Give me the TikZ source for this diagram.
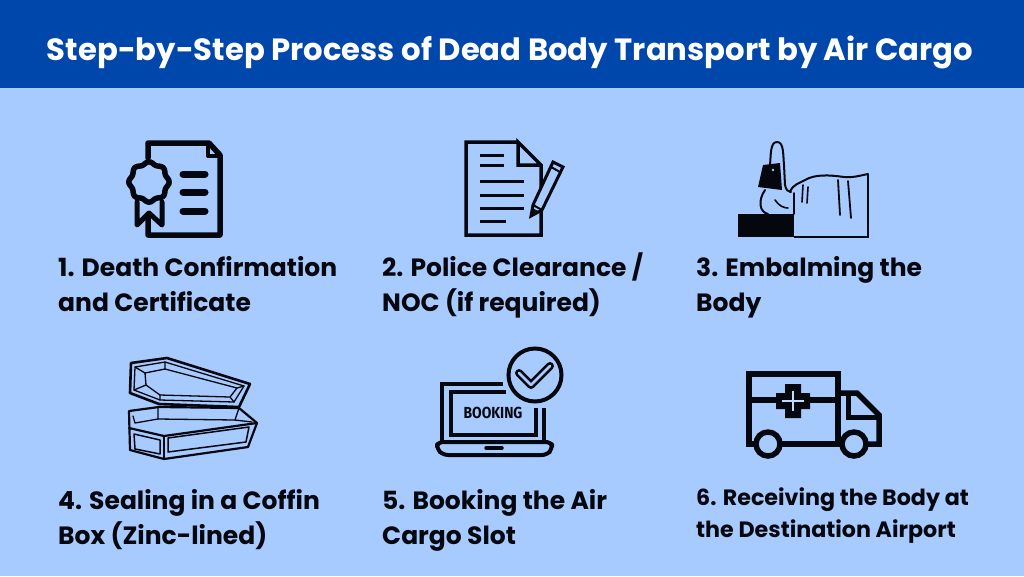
\documentclass[tikz,border=0pt]{standalone}
\usepackage{fontspec}
\setmainfont{Poppins}
\newfontfamily\bookfont{Fira Sans}
\usetikzlibrary{positioning}
\definecolor{headblue}{HTML}{0047AB}
\definecolor{skyblue}{HTML}{A8CBFF}
\definecolor{inkblack}{HTML}{05070F}
\tikzset{
  steplabel/.style={anchor=west, align=left, inner sep=0pt, text=inkblack, font=\bfseries\fontsize{25}{35}\selectfont, execute at begin node=\strut, execute at end node=\strut},
  smalllabel/.style={steplabel, font=\bfseries\fontsize{22.2}{32}\selectfont},
  heavy/.style={draw=inkblack, line width=5.5pt, line join=round, line cap=round},
  thin line/.style={draw=inkblack, line width=3pt, line join=miter},
  fine/.style={draw=inkblack, line width=1.6pt, line join=round, line cap=round}
}
\begin{document}
\begin{tikzpicture}[x=1pt,y=-1pt]
\useasboundingbox (0,0) rectangle (1024,576);
\fill[skyblue] (0,0) rectangle (1024,576);
\fill[headblue] (0,0) rectangle (1024,88);
\node[text=white, inner sep=0pt, font=\bfseries\fontsize{30.7}{36}\selectfont] (title) at (510,52) {Step-by-Step Process of Dead Body Transport by Air Cargo};

% labels
\node[steplabel] (death) at (58,289) {1. Death Confirmation\\and Certificate};
\node[steplabel] (police) at (382,287.5) {2. Police Clearance /\\NOC (if required)};
\node[steplabel] (embalm) at (696,289) {3. Embalming the\\Body};
\node[steplabel] (seal) at (58,522) {4. Sealing in a Coffin\\Box (Zinc-lined)};
\node[steplabel] (booking) at (382,522) {5. Booking the Air\\Cargo Slot};
\node[smalllabel] (receive) at (696,517.5) {6. Receiving the Body at\\the Destination Airport};

% certificate
\draw[heavy] (148,158) -- (148,143) -- (209,143) -- (220,155) -- (220,235) -- (148,235) -- (148,216);
\draw[heavy,line width=4pt] (208,144) -- (208,156) -- (219,156);
\foreach \y in {174,192,211}
  \draw[heavy,line width=7pt] (183,\y) -- (205,\y);
\draw[heavy] plot[smooth cycle,samples=64,domain=0:360] ({149+(19+1.2*cos(8*\x))*cos(\x)},{182+(19+1.2*cos(8*\x))*sin(\x)});
\draw[heavy,line width=5pt] (137,202) -- (137,225) -- (149,213) -- (162,225) -- (162,202);

% document and pencil
\draw[thin line,line width=3.5pt] (518,142) -- (466,142) -- (466,235) -- (541,235) -- (541,165) -- (518,142) -- (518,165) -- (541,165);
\foreach \y in {155,165}
  \draw[thin line] (480,\y) -- (504,\y);
\foreach \y in {181,195,208}
  \draw[thin line] (480,\y) -- (524,\y);
\draw[thin line] (480,221) -- (506,221);
\fill[skyblue] (533,205) -- (553,162) -- (563,167) -- (542,210) -- (531,216) -- cycle;
\draw[thin line] (531,216) -- (533,205) -- (553,162) -- (563,167) -- (542,210) -- cycle;
\draw[thin line,line width=2pt] (551,167) -- (560,172) (533,205) -- (542,210);
\fill[inkblack] (531,216) -- (532.5,208) -- (538,211) -- cycle;

% foot with tag
\fill[inkblack] (738,214) rectangle (794,237);
\draw[thin line,line width=2pt] (794,237) -- (868,237) -- (868,174);
\draw[fine,line width=2pt] (868,174) .. controls (858,176) and (852,178) .. (844,177) .. controls (830,175) and (815,174) .. (805,180) .. controls (800,183) and (793,184) .. (790,192);
\draw[fine,line width=2pt] (794,193) -- (794,214);
\draw[fine,line width=2pt] (765,190) .. controls (758,200) and (759,212) .. (768,214) (770,165) .. controls (771,155) and (770,142) .. (777,142) .. controls (784,142) and (783,155) .. (784,165) -- (785,185) .. controls (786,190) and (788,192) .. (791,192);
\fill[inkblack] (763,165) -- (780,163) -- (782,190) -- (758,187) -- cycle;
\fill[skyblue] (773,170) circle (1.3);
\draw[fine] (775,200) .. controls (779,206) and (784,208) .. (788,208);
\draw[fine] (803,185) -- (802,202) (808,187) -- (807,203);
\draw[fine,line width=1.8pt] (838,180) -- (840,215) (848,181) -- (851,218);

% coffin
\draw[fine,line width=2.6pt] (131,363) -- (167,358) -- (250,384) -- (239,407) -- (159,404) -- (130,393) -- cycle;
\draw[fine,line width=1.3pt] (135,367) -- (165,362) -- (244,386) -- (234,402) -- (160,400) -- (134,390) -- cycle;
\draw[fine,line width=1.3pt] (145,373) -- (165,369) -- (237,388) -- (230,397) -- (160,395) -- (146,385) -- cycle;
\draw[fine,line width=1.3pt] (135,367) -- (145,373) (165,362) -- (165,369) (244,386) -- (237,388) (234,402) -- (230,397) (160,400) -- (160,395) (134,390) -- (146,385);
\draw[fine,line width=2.2pt] (129,411) -- (159,407) -- (239,408) -- (257,423) -- (248,447) -- (164,459) -- (130,450) -- cycle;
\draw[fine,line width=2.2pt] (129,428) -- (164,436) -- (257,423);
\draw[fine,line width=1.3pt] (164,436) -- (164,459);
\draw[fine,line width=1.3pt] (133,416) -- (135,423) -- (158,419) -- (235,420) -- (252,422);
\draw[fine,line width=1.3pt] (158,407) -- (158,419) (239,408) -- (235,420);
\draw[fine,line width=1.5pt] (134,434) -- (160,440) -- (160,454) -- (135,449) -- cycle;
\draw[fine,line width=1.5pt] (168,438) -- (249,427) -- (246,442) -- (168,452) -- cycle;

% laptop and check mark
\draw[heavy,line cap=butt,line join=miter,line width=4pt] (503,384) -- (442,384) -- (442,441) (544,408) -- (544,441);
\draw[heavy,line cap=butt,line join=miter,line width=4pt] (506,392) -- (451,392) -- (451,435) -- (536,435) -- (536,408);
\draw[heavy,line width=4pt,rounded corners=5pt] (437,442) -- (552,442) -- (552,449) -- (547,455) -- (443,455) -- (437,449) -- cycle;
\draw[heavy,line width=3.5pt] (486,448) -- (502,448);
\node[inner sep=0pt, text=inkblack, font=\bookfont\bfseries\fontsize{16}{16}\selectfont] (laptoptext) at (493,413) {\scalebox{.87}[1]{BOOKING}};
\node[circle, draw=inkblack, line width=4pt, minimum size=53pt, inner sep=0pt] (checkring) at (535,375) {};
\draw[heavy,line width=8pt] (519,373) -- (531,385) -- (550,366);
\draw[skyblue,line width=2.5pt,line join=round,line cap=round] (519,373) -- (531,385) -- (550,366);

% ambulance
\draw[heavy,line cap=butt,line join=miter] (757,444) -- (749,444) -- (749,374) -- (838,374) -- (838,444) -- (779,444);
\draw[heavy,line cap=butt,line join=miter] (749,400) -- (838,400);
\draw[heavy,line cap=butt,line join=miter] (838,393) -- (857,393) -- (879,415) -- (879,444) -- (867,444) (842,444) -- (838,444);
\draw[heavy,line cap=butt,line join=miter,line width=5pt] (848,393) -- (848,417) -- (879,417);
\fill[inkblack] (785,384) -- (801,384) -- (801,393) -- (810,393) -- (810,409) -- (801,409) -- (801,418) -- (785,418) -- (785,409) -- (776,409) -- (776,393) -- (785,393) -- cycle;
\draw[skyblue!70!white,line width=2pt] (793,391) -- (793,411) (782,401) -- (804,401);
\node[circle, draw=inkblack, fill=skyblue, line width=5.5pt, minimum size=24pt, inner sep=0pt] (rearwheel) at (768,444) {};
\node[circle, draw=inkblack, fill=skyblue, line width=5.5pt, minimum size=24pt, inner sep=0pt] (frontwheel) at (854,444) {};
\end{tikzpicture}
\end{document}
